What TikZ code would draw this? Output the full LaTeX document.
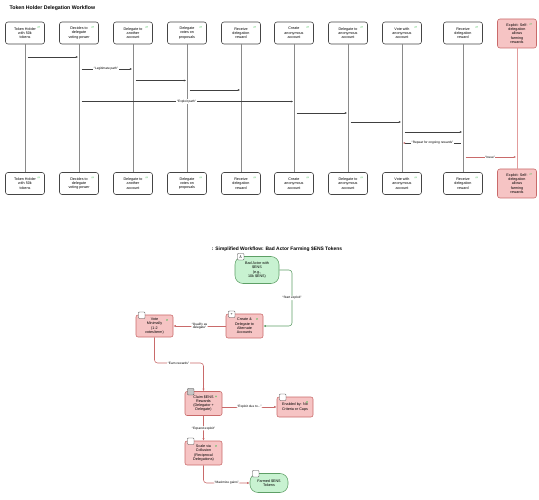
\documentclass[tikz,border=0pt]{standalone}
\usepackage{fontspec}
\setmainfont{Liberation Sans}
\usetikzlibrary{arrows.meta, calc, positioning}

\definecolor{boxline}{HTML}{454545}
\definecolor{lifeline}{HTML}{8A8A8A}
\definecolor{msgline}{HTML}{404040}
\definecolor{redfill}{HTML}{F6C4C4}
\definecolor{redline}{HTML}{C96A6A}
\definecolor{redlife}{HTML}{E29C9C}
\definecolor{greenfill}{HTML}{C8F2D1}
\definecolor{greenline}{HTML}{5E9F66}
\definecolor{markgreen}{HTML}{3FBF52}

\newcommand{\boxfont}{\fontsize{3.7}{4.3}\selectfont}
\newcommand{\lblfont}{\fontsize{3.2}{3.6}\selectfont}
\newcommand{\gtick}[1]{\draw[markgreen,line width=0.35pt]
  ($(#1.north east)+(-7,6)$) -- ++(0.3,-1.5) ($(#1.north east)+(-5.8,6)$) -- ++(0.3,-1.5);}
\newcommand{\nicon}[2]{\node[icon] at ($(#1.north west)+(6,0.5)$) {#2};}

\begin{document}
\begin{tikzpicture}[x=1pt,y=-1pt,
  actor/.style={draw=boxline,fill=white,rounded corners=2.5pt,line width=0.6pt,
    minimum width=39pt,minimum height=22pt,inner sep=0.8pt,align=center,font=\boxfont},
  exploit/.style={actor,draw=redline,fill=redfill,minimum height=29pt},
  life/.style={draw=lifeline,line width=0.65pt},
  msg/.style={draw=msgline,line width=0.45pt,-{Latex[length=2.4pt,width=2pt]},
    shorten <=2.5pt,shorten >=0.8pt},
  lbl/.style={fill=white,inner sep=0.6pt,font=\lblfont,align=center},
  flow/.style={draw=redline,fill=redfill,rounded corners=2pt,line width=0.55pt,
    minimum width=37pt,minimum height=24pt,inner sep=0.8pt,align=center,font=\boxfont},
  goal/.style={flow,draw=greenline,fill=greenfill,rounded corners=8pt},
  link/.style={draw=redline,line width=0.55pt,rounded corners=3pt,
    -{Latex[length=2.6pt,width=2.2pt]}},
  icon/.style={draw=boxline,fill=white,rounded corners=0.8pt,line width=0.4pt,
    minimum size=6.5pt,inner sep=0pt,font=\fontsize{3.5}{4}\selectfont}]
  \useasboundingbox (0,0) rectangle (539,500);
  %\draw[help lines] (0,0) grid[step=50] (539,500);

  \node[anchor=west,font=\bfseries\fontsize{5.2}{5.5}\selectfont] (title1) at (6,8)
    {Token Holder Delegation Workflow};

  % participants, head row
  \node[actor]   (h0) at (25 ,33)   {Token Holder\\with 50k\\tokens};
  \node[actor]   (h1) at (79 ,33)   {Decides to\\delegate\\voting power};
  \node[actor]   (h2) at (133,33)   {Delegate to\\another\\account};
  \node[actor]   (h3) at (187,33)   {Delegate\\votes on\\proposals};
  \node[actor]   (h4) at (241,33)   {Receive\\delegation\\reward};
  \node[actor]   (h5) at (294,33)   {Create\\anonymous\\account};
  \node[actor]   (h6) at (348,33)   {Delegate to\\anonymous\\account};
  \node[actor]   (h7) at (402,33)   {Vote with\\anonymous\\account};
  \node[actor]   (h8) at (463,33)   {Receive\\delegation\\reward};
  \node[exploit] (h9) at (517,33.5) {Exploit: Self-\\delegation\\allows\\farming\\rewards};

  % participants, foot row
  \node[actor]   (f0) at (25 ,183.5) {Token Holder\\with 50k\\tokens};
  \node[actor]   (f1) at (79 ,183.5) {Decides to\\delegate\\voting power};
  \node[actor]   (f2) at (133,183.5) {Delegate to\\another\\account};
  \node[actor]   (f3) at (187,183.5) {Delegate\\votes on\\proposals};
  \node[actor]   (f4) at (241,183.5) {Receive\\delegation\\reward};
  \node[actor]   (f5) at (294,183.5) {Create\\anonymous\\account};
  \node[actor]   (f6) at (348,183.5) {Delegate to\\anonymous\\account};
  \node[actor]   (f7) at (402,183.5) {Vote with\\anonymous\\account};
  \node[actor]   (f8) at (463,183.5) {Receive\\delegation\\reward};
  \node[exploit] (f9) at (517,183.5) {Exploit: Self-\\delegation\\allows\\farming\\rewards};

  \gtick{h0} \gtick{h1} \gtick{h2} \gtick{h3} \gtick{h4}
  \gtick{h5} \gtick{h6} \gtick{h7} \gtick{h8} \gtick{h9}
  \gtick{f0} \gtick{f1} \gtick{f2} \gtick{f3} \gtick{f4}
  \gtick{f5} \gtick{f6} \gtick{f7} \gtick{f8} \gtick{f9}

  % lifelines
  \draw[life] (h0) -- (f0);
  \draw[life] (h1) -- (f1);
  \draw[life] (h2) -- (f2);
  \draw[life] (h3) -- (f3);
  \draw[life] (h4) -- (f4);
  \draw[life] (h5) -- (f5);
  \draw[life] (h6) -- (f6);
  \draw[life] (h7) -- (f7);
  \draw[life] (h8) -- (f8);
  \draw[life,draw=redlife] (h9) -- (f9);

  % message levels
  \coordinate (m1)  at (0,57);
  \coordinate (m2)  at (0,69);
  \coordinate (m3)  at (0,80.5);
  \coordinate (m4)  at (0,90);
  \coordinate (m5)  at (0,101.5);
  \coordinate (m6)  at (0,113);
  \coordinate (m7)  at (0,122);
  \coordinate (m8)  at (0,132);
  \coordinate (m9)  at (0,143);
  \coordinate (m10) at (0,157);

  \draw[msg] (h0 |- m1) -- (h1 |- m1);
  \draw[msg] (h1 |- m2) -- node[lbl] {“Legitimate path”} (h2 |- m2);
  \draw[msg] (h2 |- m3) -- (h3 |- m3);
  \draw[msg] (h3 |- m4) -- (h4 |- m4);
  \draw[msg] (h1 |- m5) -- node[lbl] {“Exploit path”} (h5 |- m5);
  \draw[msg] (h5 |- m6) -- (h6 |- m6);
  \draw[msg] (h6 |- m7) -- (h7 |- m7);
  \draw[msg] (h7 |- m8) -- (h8 |- m8);
  \draw[msg,-{Latex[length=2.4pt,width=2pt,color=redline]}]
    (h8 |- m9) -- node[lbl] {“Repeat for ongoing rewards”} (h7 |- m9);
  \draw[msg,draw=redline] (h8 |- m10) -- node[lbl] {“Issue”} (h9 |- m10);

  % flowchart: bad actor farming
  \node[font=\bfseries\fontsize{4.9}{5.2}\selectfont] (title2) at (277,249)
    {: Simplified Workflow: Bad Actor Farming \$ENS Tokens};

  \node[goal,minimum width=44pt,minimum height=27pt] (start)  at (257  ,270)
    {Bad Actor with\\\$ENS\\(e.g.,\\10k \$ENS)};
  \node[flow]                                       (create) at (244.5,326)
    {Create \&\\Delegate to\\Alternate\\Accounts};
  \node[flow,minimum height=22pt]                   (vote)   at (154.5,326)
    {Vote\\Minimally\\(1-2\\votes/term)};
  \node[flow]                                       (claim)  at (203.5,403.5)
    {Claim \$ENS\\Rewards\\(Delegator +\\Delegate)};
  \node[flow,minimum width=36pt,minimum height=20pt](enabled) at (295 ,407)
    {Enabled by: No\\Criteria or Caps};
  \node[flow]                                       (scale)  at (203.5,453)
    {Scale via\\Collusion\\(Reciprocal\\Delegations)};
  \node[goal,minimum width=38pt,minimum height=19pt](farmed) at (269  ,483)
    {Farmed \$ENS\\Tokens};

  \gtick{create} \gtick{vote} \gtick{claim} \gtick{enabled} \gtick{scale}

  \nicon{start}{\textsf{\AA}}
  \nicon{create}{+}
  \nicon{vote}{}
  \node[icon,fill=gray!45] at ($(claim.north west)+(6,0.5)$) {};
  \nicon{enabled}{}
  \nicon{scale}{}
  \nicon{farmed}{}

  \coordinate (turn1) at (292,270);
  \coordinate (earn)  at (178.5,363);

  \draw[link,draw=greenline] (start.east) -- (turn1)
    |- node[lbl,pos=0.25] {“Start exploit”} (create.east);
  \draw[link] (create.west) -- node[lbl] {“Qualify as\\delegate”} (vote.east);
  \draw[link] (vote.south) |- (earn) -| (claim.north);
  \node[lbl] at (earn) {“Earn rewards”};
  \draw[link] (claim.east |- enabled) -- node[lbl] {“Exploit due to...”} (enabled.west);
  \draw[link] (claim.south) -- node[lbl] {“Expand exploit”} (scale.north);
  \draw[link] (scale.south) |- node[lbl,pos=0.75] {“Maximize gains”} (farmed.west);

\end{tikzpicture}
\end{document}
